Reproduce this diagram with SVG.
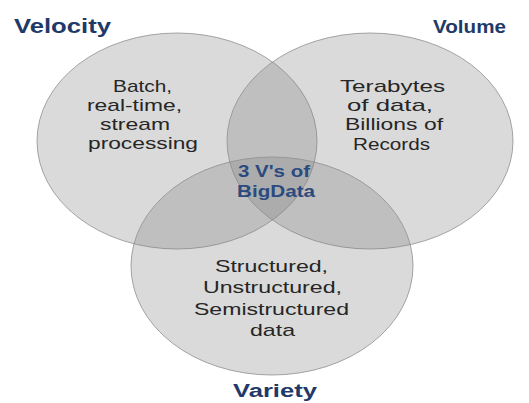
<svg xmlns="http://www.w3.org/2000/svg" width="529" height="403" viewBox="0 0 529 403">
<style>
.c{fill:#808080;fill-opacity:0.29;stroke:#8f8f8f;stroke-width:0.8}
.t{font-family:"Liberation Sans",Arial,sans-serif;font-size:17px;fill:#262626;text-anchor:start}
.h{font-family:"Liberation Sans",Arial,sans-serif;font-weight:bold;fill:#1f3a68}
.m{font-family:"Liberation Sans",Arial,sans-serif;font-weight:bold;font-size:16px;fill:#2a4a80}
</style>
<rect width="529" height="403" fill="#ffffff"/>
<g id="velocity">
<ellipse class="c" cx="177" cy="141" rx="140" ry="108"/>
<text class="h" x="14" y="33" font-size="20" textLength="97" lengthAdjust="spacingAndGlyphs">Velocity</text>
<text class="t" x="113" y="92" textLength="59" lengthAdjust="spacingAndGlyphs">Batch,</text>
<text class="t" x="87" y="111" textLength="95" lengthAdjust="spacingAndGlyphs">real-time,</text>
<text class="t" x="100" y="130" textLength="70" lengthAdjust="spacingAndGlyphs">stream</text>
<text class="t" x="88" y="149" textLength="110" lengthAdjust="spacingAndGlyphs">processing</text>
</g>
<g id="volume">
<ellipse class="c" cx="370" cy="141" rx="143" ry="108"/>
<text class="h" x="433" y="33" font-size="18" textLength="73" lengthAdjust="spacingAndGlyphs">Volume</text>
<text class="t" x="340" y="92" textLength="105" lengthAdjust="spacingAndGlyphs">Terabytes</text>
<text class="t" x="347" y="111" textLength="86" lengthAdjust="spacingAndGlyphs">of data,</text>
<text class="t" x="345" y="130" textLength="98" lengthAdjust="spacingAndGlyphs">Billions of</text>
<text class="t" x="353" y="150" textLength="77" lengthAdjust="spacingAndGlyphs">Records</text>
</g>
<g id="variety">
<ellipse class="c" cx="272" cy="266" rx="141" ry="109"/>
<text class="h" x="233" y="397" font-size="18" textLength="84" lengthAdjust="spacingAndGlyphs">Variety</text>
<text class="t" x="215" y="272" textLength="113" lengthAdjust="spacingAndGlyphs">Structured,</text>
<text class="t" x="203" y="293" textLength="139" lengthAdjust="spacingAndGlyphs">Unstructured,</text>
<text class="t" x="194" y="315" textLength="155" lengthAdjust="spacingAndGlyphs">Semistructured</text>
<text class="t" x="250" y="336" textLength="45" lengthAdjust="spacingAndGlyphs">data</text>
</g>
<g id="center">
<text class="m" x="238" y="177" textLength="72" lengthAdjust="spacingAndGlyphs">3 V's of</text>
<text class="m" x="237" y="197" textLength="78" lengthAdjust="spacingAndGlyphs">BigData</text>
</g>
<g id="connectors"></g>
</svg>
